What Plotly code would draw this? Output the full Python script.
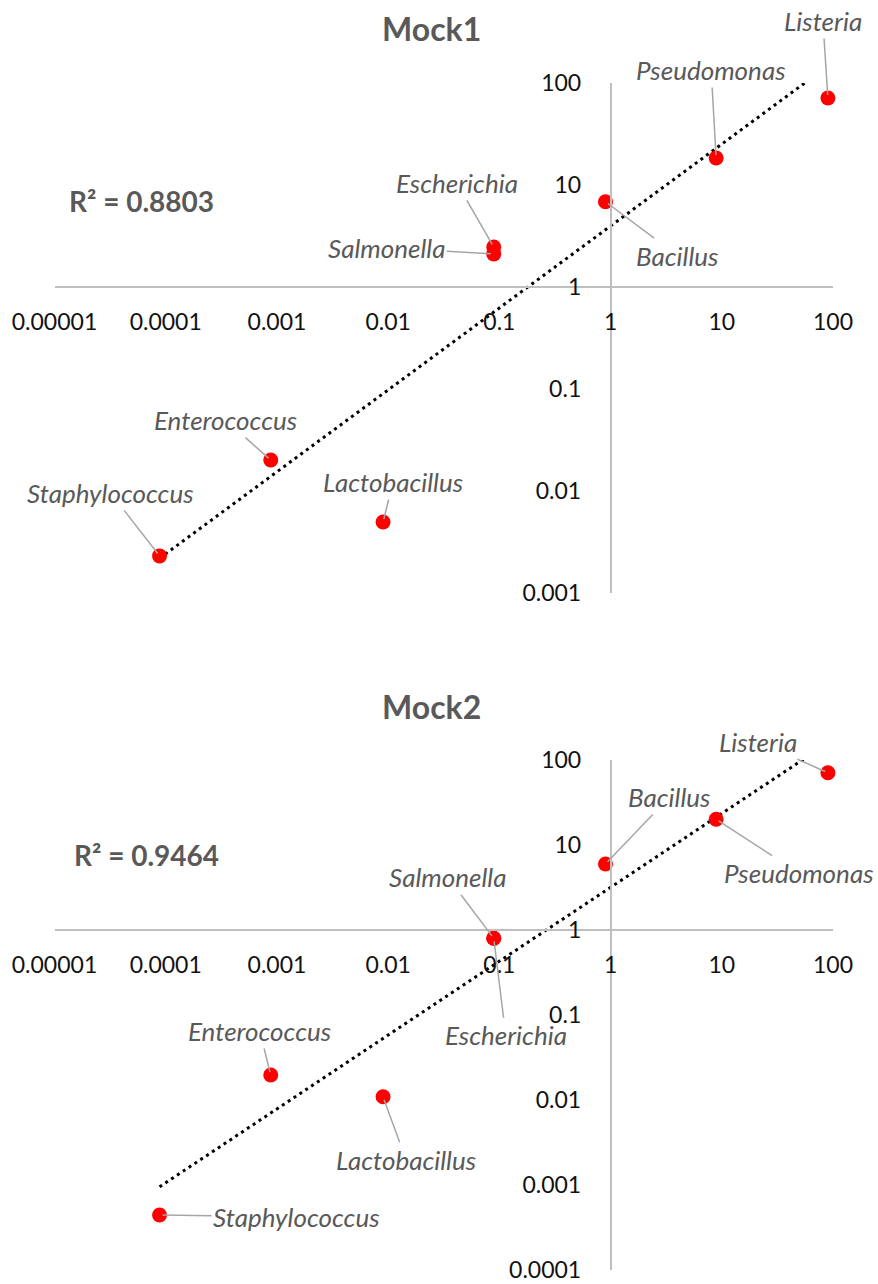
import numpy as np
import plotly.graph_objects as go

W, H = 878, 1284

# ---------------- data ----------------
genera = ["Listeria", "Pseudomonas", "Bacillus", "Escherichia", "Salmonella",
          "Lactobacillus", "Enterococcus", "Staphylococcus"]
expected = [90, 8.9, 0.9, 0.089, 0.089, 0.009, 0.00088, 0.000088]
mock1 = [71.3, 18.4, 6.86, 2.47, 2.11, 0.00497, 0.0201, 0.00231]
mock2 = [70.9, 20.1, 5.98, 0.80, 0.80, 0.0109, 0.0197, 0.000444]
titles = ["Mock1", "Mock2"]
r2_texts = ["R² = 0.8803", "R² = 0.9464"]

x_tickvals = [1e-5, 1e-4, 1e-3, 1e-2, 1e-1, 1, 10, 100]
x_ticktext = ["0.00001", "0.0001", "0.001", "0.01", "0.1", "1", "10", "100"]
y1_tickvals = [1e-3, 1e-2, 1e-1, 1, 10, 100]
y1_ticktext = ["0.001", "0.01", "0.1", "1", "10", "100"]
y2_tickvals = [1e-4, 1e-3, 1e-2, 1e-1, 1, 10, 100]
y2_ticktext = ["0.0001", "0.001", "0.01", "0.1", "1", "10", "100"]

# label offsets (pixels, text centre relative to the point)
label_offsets1 = {"Listeria": (-5, -77), "Pseudomonas": (-5, -88), "Bacillus": (72, 54),
                  "Escherichia": (-37, -64), "Salmonella": (-107, -6),
                  "Lactobacillus": (10, -40), "Enterococcus": (-45, -40),
                  "Staphylococcus": (-49, -63)}
label_offsets2 = {"Listeria": (-70, -31), "Pseudomonas": (83, 54), "Bacillus": (64, -67),
                  "Escherichia": (12, 97), "Salmonella": (-46, -61),
                  "Lactobacillus": (23, 63), "Enterococcus": (-11, -44),
                  "Staphylococcus": (137, 2)}

FONT = "Lato"
GRAY = "#595959"
AXIS = "#BFBFBF"

def px_x(p):
    return p / W

def px_y(p):
    return 1 - p / H

x_lo, x_hi = 54.5, 833.0
x_range = [-5, 2]
x_one = x_lo + (0 - x_range[0]) / (x_range[1] - x_range[0]) * (x_hi - x_lo)

panels = [
    dict(y=mock1, top=83, bot=593, yr=[-3, 2], tv=y1_tickvals, tt=y1_ticktext,
         offs=label_offsets1, title_y=28, r2_xy=(141, 201)),
    dict(y=mock2, top=760, bot=1270, yr=[-4, 2], tv=y2_tickvals, tt=y2_ticktext,
         offs=label_offsets2, title_y=706, r2_xy=(146, 855)),
]

fig = go.Figure()
annotations = []
layout_axes = {}

for i, p in enumerate(panels):
    n = "" if i == 0 else str(i + 1)
    xa, ya = "x" + n, "y" + n
    y_one = p["bot"] - (0 - p["yr"][0]) / (p["yr"][1] - p["yr"][0]) * (p["bot"] - p["top"])

    # power trendline (linear fit in log-log space)
    lx = np.log10(expected)
    ly = np.log10(p["y"])
    slope, icpt = np.polyfit(lx, ly, 1)
    tx = np.array([min(expected), max(expected)])
    ty = 10 ** (icpt + slope * np.log10(tx))
    fig.add_trace(go.Scatter(x=tx, y=ty, mode="lines", xaxis=xa, yaxis=ya,
                             line=dict(color="black", width=3, dash="3px,4px"),
                             showlegend=False, hoverinfo="skip"))
    fig.add_trace(go.Scatter(x=expected, y=p["y"], mode="markers", xaxis=xa, yaxis=ya,
                             marker=dict(color="#FF0000", size=15, line=dict(width=0)),
                             cliponaxis=False, showlegend=False, text=genera))

    layout_axes["xaxis" + n] = dict(
        type="log", range=x_range, domain=[px_x(x_lo), px_x(x_hi)],
        anchor="free", position=px_y(y_one), automargin=False,
        tickvals=x_tickvals, ticktext=x_ticktext,
        showgrid=False, zeroline=False, showline=True, linecolor=AXIS, linewidth=1.5,
        ticks="outside", ticklen=15, tickcolor="rgba(0,0,0,0)",
        tickfont=dict(family=FONT, size=23, color="#111111"))
    layout_axes["yaxis" + n] = dict(
        type="log", range=p["yr"], domain=[px_y(p["bot"]), px_y(p["top"])],
        anchor="free", position=px_x(x_one), automargin=False,
        tickvals=p["tv"], ticktext=p["tt"],
        showgrid=False, zeroline=False, showline=True, linecolor=AXIS, linewidth=1.5,
        ticks="outside", ticklen=24, tickcolor="rgba(0,0,0,0)",
        tickfont=dict(family=FONT, size=23, color="#111111"))

    for g, xv, yv in zip(genera, expected, p["y"]):
        ax, ay = p["offs"][g]
        annotations.append(dict(
            x=np.log10(xv), y=np.log10(yv), xref=xa, yref=ya, text=g,
            showarrow=True, arrowhead=0, arrowwidth=1.5, arrowcolor="#A6A6A6",
            ax=ax, ay=ay, standoff=3,
            font=dict(family=FONT, size=26, color=GRAY, style="italic")))

    annotations.append(dict(x=0.4915, y=px_y(p["title_y"]), xref="paper", yref="paper",
                            xanchor="center", yanchor="middle",
                            text="<b>" + titles[i] + "</b>", showarrow=False,
                            font=dict(family=FONT, size=32, color=GRAY)))
    annotations.append(dict(x=px_x(p["r2_xy"][0]), y=px_y(p["r2_xy"][1]),
                            xref="paper", yref="paper", xanchor="center", yanchor="middle",
                            text="<b>" + r2_texts[i] + "</b>", showarrow=False,
                            font=dict(family=FONT, size=28, color=GRAY)))

fig.update_layout(width=W, height=H,
                  margin=dict(l=0, r=0, t=0, b=0, pad=0, autoexpand=False),
                  paper_bgcolor="white", plot_bgcolor="white",
                  showlegend=False, annotations=annotations, **layout_axes)

fig.write_html("out.html",
               config={"displayModeBar": False},
               post_script="document.body.style.margin='0';"
                           "document.body.style.overflow='hidden';")
